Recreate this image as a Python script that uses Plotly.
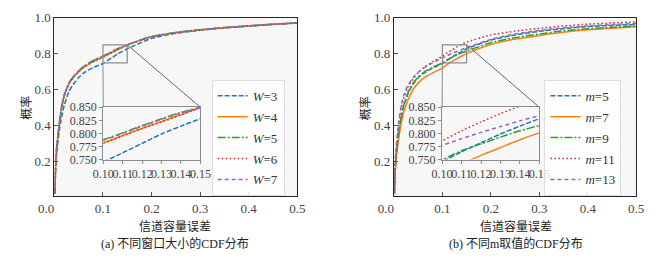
import plotly.graph_objects as go

# ---------------- data ----------------
x_err = [0.001, 0.003, 0.005, 0.01, 0.015, 0.02, 0.03, 0.04, 0.05, 0.06, 0.08,
         0.10, 0.11, 0.12, 0.13, 0.14, 0.15, 0.20, 0.25, 0.30, 0.35, 0.40, 0.45, 0.50]

# (a) different window sizes W
W_labels = ["<i>W</i>=3", "<i>W</i>=4", "<i>W</i>=5", "<i>W</i>=6", "<i>W</i>=7"]
W3 = [0.02, 0.18, 0.25, 0.37, 0.45, 0.51, 0.59, 0.635, 0.668, 0.693, 0.724,
      0.746, 0.763, 0.781, 0.799, 0.814, 0.828, 0.886, 0.914, 0.931, 0.944, 0.954, 0.963, 0.971]
W4 = [0.02, 0.20, 0.28, 0.40, 0.50, 0.562, 0.633, 0.672, 0.700, 0.724, 0.757,
      0.782, 0.796, 0.810, 0.823, 0.836, 0.849, 0.895, 0.918, 0.933, 0.945, 0.955, 0.964, 0.972]
W5 = [0.02, 0.21, 0.29, 0.41, 0.505, 0.567, 0.638, 0.677, 0.705, 0.729, 0.763,
      0.788, 0.801, 0.815, 0.828, 0.840, 0.850, 0.896, 0.919, 0.934, 0.946, 0.956, 0.965, 0.972]
W6 = [0.02, 0.20, 0.28, 0.40, 0.50, 0.562, 0.633, 0.672, 0.700, 0.723, 0.756,
      0.781, 0.795, 0.809, 0.822, 0.835, 0.849, 0.895, 0.918, 0.933, 0.945, 0.955, 0.964, 0.972]
W7 = [0.02, 0.21, 0.29, 0.41, 0.505, 0.567, 0.637, 0.676, 0.704, 0.728, 0.762,
      0.787, 0.800, 0.814, 0.827, 0.839, 0.850, 0.896, 0.919, 0.934, 0.946, 0.956, 0.965, 0.972]

# (b) different m values
m_labels = ["<i>m</i>=5", "<i>m</i>=7", "<i>m</i>=9", "<i>m</i>=11", "<i>m</i>=13"]
m5 = [0.02, 0.17, 0.24, 0.36, 0.44, 0.505, 0.585, 0.633, 0.666, 0.690, 0.721,
      0.746, 0.765, 0.782, 0.799, 0.814, 0.828, 0.877, 0.905, 0.925, 0.940, 0.952, 0.958, 0.964]
m7 = [0.02, 0.15, 0.22, 0.33, 0.41, 0.47, 0.55, 0.603, 0.637, 0.662, 0.694,
      0.721, 0.741, 0.758, 0.773, 0.788, 0.801, 0.852, 0.882, 0.902, 0.920, 0.934, 0.943, 0.950]
m9 = [0.02, 0.17, 0.24, 0.36, 0.445, 0.51, 0.59, 0.638, 0.670, 0.694, 0.725,
      0.750, 0.767, 0.780, 0.793, 0.805, 0.815, 0.862, 0.890, 0.910, 0.928, 0.940, 0.948, 0.955]
m11 = [0.02, 0.20, 0.27, 0.40, 0.49, 0.55, 0.62, 0.662, 0.695, 0.720, 0.756,
       0.786, 0.805, 0.822, 0.838, 0.852, 0.865, 0.905, 0.926, 0.942, 0.955, 0.965, 0.972, 0.978]
m13 = [0.02, 0.21, 0.29, 0.42, 0.51, 0.565, 0.63, 0.668, 0.697, 0.718, 0.750,
       0.777, 0.790, 0.802, 0.813, 0.824, 0.834, 0.880, 0.910, 0.930, 0.945, 0.955, 0.963, 0.969]

main_xticks = [0.0, 0.1, 0.2, 0.3, 0.4, 0.5]
main_yticks = [0.2, 0.4, 0.6, 0.8, 1.0]
inset_xticks = [0.10, 0.11, 0.12, 0.13, 0.14, 0.15]
inset_yticks = [0.750, 0.775, 0.800, 0.825, 0.850]
zoom_x = [0.10, 0.15]
zoom_y = [0.75, 0.85]

# ---------------- styles ----------------
colors = ["#1f77b4", "#ff7f0e", "#2ca02c", "#d62728", "#9467bd"]
dashes = ["5px,2px", "solid", "8px,2px,2px,2px", "1.5px,2.5px", "4px,3px"]
SERIF = "Liberation Serif, Times New Roman, serif"
CJK = "Noto Sans CJK SC, sans-serif"
W, H = 660, 259

def px_x(p):
    return p / W

def px_y(p):
    return (H - p) / H

main_a = ([px_x(40), px_x(293.3)], [px_y(200), px_y(11.5)])
main_b = ([px_x(394), px_x(646.7)], [px_y(200), px_y(11.5)])
ins_a = ([px_x(91), px_x(192.3)], [px_y(161.3), px_y(106)])
ins_b = ([px_x(444.3), px_x(545.7)], [px_y(161.3), px_y(106)])
y_main_range = [0.008, 1.0]
x_main_range = [0.0, 0.5]

fig = go.Figure()

sets = [
    ([W3, W4, W5, W6, W7], W_labels, ("x", "y"), ("x2", "y2"), "legend"),
    ([m5, m7, m9, m11, m13], m_labels, ("x3", "y3"), ("x4", "y4"), "legend2"),
]
for series, labels, (mx, my), (ix, iy), leg in sets:
    for i, (ys, lab) in enumerate(zip(series, labels)):
        line = dict(color=colors[i], width=1.5, dash=dashes[i], shape="spline", smoothing=0.6)
        fig.add_trace(go.Scatter(x=x_err, y=ys, mode="lines", name=lab, line=line,
                                 xaxis=mx, yaxis=my, legend=leg,
                                 legendgroup=leg + str(i)))
        fig.add_trace(go.Scatter(x=x_err, y=ys, mode="lines", name=lab, line=line,
                                 xaxis=ix, yaxis=iy, showlegend=False,
                                 legendgroup=leg + str(i)))

main_axis = dict(showgrid=False, zeroline=False, showline=True, mirror=True,
                 linecolor="#262626", linewidth=1.2, ticks="inside", ticklen=4,
                 tickcolor="#555555", tickfont=dict(family=SERIF, size=13, color="#444444"))
inset_axis = dict(showgrid=False, zeroline=False, showline=True, mirror=True,
                  linecolor="#8c8c8c", linewidth=1.2, ticks="outside", ticklen=3,
                  tickcolor="#8c8c8c", tickangle=0,
                  tickfont=dict(family=SERIF, size=12, color="#444444"))

def xmain(dom, anchor):
    txt = ["%.1f" % v for v in main_xticks]
    # the first label sits slightly left of its tick in the reference
    txt[0] = txt[0] + "<span style='color:rgba(0,0,0,0)'>" + txt[0] + "</span>"
    return dict(main_axis, domain=dom, anchor=anchor, range=x_main_range,
                tickvals=main_xticks, ticktext=txt)

def ymain(dom, anchor):
    return dict(main_axis, domain=dom, anchor=anchor, range=y_main_range,
                tickvals=main_yticks, ticktext=["%.1f" % v for v in main_yticks])

def xins(dom, anchor):
    return dict(inset_axis, domain=dom, anchor=anchor, range=zoom_x,
                tickvals=inset_xticks, ticktext=["%.2f" % v for v in inset_xticks])

def yins(dom, anchor):
    return dict(inset_axis, domain=dom, anchor=anchor, range=zoom_y,
                tickvals=inset_yticks, ticktext=["%.3f" % v for v in inset_yticks])

legend_style = dict(font=dict(family=SERIF, size=13, color="#333333"),
                    bgcolor="rgba(255,255,255,0.82)", bordercolor="#dddddd", borderwidth=1,
                    tracegroupgap=1, xanchor="left", yanchor="top",
                    itemwidth=30, itemclick=False)

fig.update_layout(
    width=W, height=H, margin=dict(l=0, r=0, t=0, b=0), autosize=False,
    paper_bgcolor="white", plot_bgcolor="#f7f7f7",
    xaxis=xmain(main_a[0], "y"), yaxis=ymain(main_a[1], "x"),
    xaxis2=xins(ins_a[0], "y2"), yaxis2=yins(ins_a[1], "x2"),
    xaxis3=xmain(main_b[0], "y3"), yaxis3=ymain(main_b[1], "x3"),
    xaxis4=xins(ins_b[0], "y4"), yaxis4=yins(ins_b[1], "x4"),
    legend=dict(legend_style, x=px_x(204), y=px_y(77)),
    legend2=dict(legend_style, x=px_x(551), y=px_y(77)),
)

# zoom rectangle and connector lines (inset corners mapped into main-axis data coords)
def to_main_y(paper_y, dom):
    frac = (paper_y - dom[0]) / (dom[1] - dom[0])
    return y_main_range[0] + frac * (y_main_range[1] - y_main_range[0])

def to_main_x(paper_x, dom):
    frac = (paper_x - dom[0]) / (dom[1] - dom[0])
    return x_main_range[0] + frac * (x_main_range[1] - x_main_range[0])

for (mdom, idom, xr, yr) in [(main_a, ins_a, "x", "y"), (main_b, ins_b, "x3", "y3")]:
    gray = dict(color="#8c8c8c", width=1.2)
    fig.add_shape(type="rect", xref=xr, yref=yr, x0=zoom_x[0], x1=zoom_x[1],
                  y0=zoom_y[0], y1=zoom_y[1], line=gray)
    top = to_main_y(idom[1][1], mdom[1])
    left = to_main_x(idom[0][0], mdom[0])
    right = to_main_x(idom[0][1], mdom[0])
    fig.add_shape(type="line", xref=xr, yref=yr, x0=zoom_x[1], y0=zoom_y[1],
                  x1=right, y1=top, line=dict(color="#666666", width=1))
    fig.add_shape(type="line", xref=xr, yref=yr, x0=zoom_x[0], y0=zoom_y[0],
                  x1=left, y1=top, line=dict(color="#8c8c8c", width=1))

# axis titles and captions
for cx, ylab_x, cap in [(166, 10, "(a) 不同窗口大小的CDF分布"), (521, 363, "(b) 不同m取值的CDF分布")]:
    fig.add_annotation(x=px_x(cx), y=px_y(231), xref="paper", yref="paper",
                       xanchor="center", yanchor="middle",
                       text="信道容量误差", showarrow=False,
                       font=dict(family=CJK, size=12, color="#222222"))
    fig.add_annotation(x=px_x(ylab_x), y=px_y(107), xref="paper", yref="paper",
                       xanchor="center", yanchor="middle",
                       text="概率", textangle=-90, showarrow=False,
                       font=dict(family=CJK, size=12, color="#222222"))
    fig.add_annotation(x=px_x(cx), y=px_y(249.5), xref="paper", yref="paper",
                       xanchor="center", yanchor="middle",
                       text=cap, showarrow=False,
                       font=dict(family=SERIF + ", " + CJK, size=12, color="#222222"))

fig.write_html("out.html", config={"responsive": False, "displayModeBar": False},
               post_script="document.body.style.margin='0';document.body.style.padding='0';")
